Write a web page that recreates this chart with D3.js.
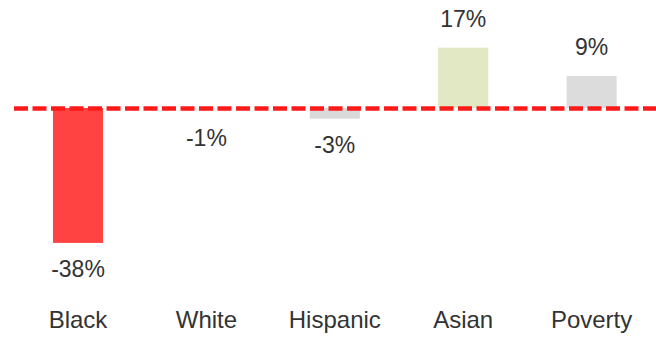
<!DOCTYPE html>
<html>
<head>
<meta charset="utf-8">
<script src="https://cdn.jsdelivr.net/npm/d3@7"></script>
<style>
  html, body { margin: 0; padding: 0; background: #fff; }
  svg { display: block; }
  text { font-family: "Liberation Sans", Arial, sans-serif; fill: #333; }
</style>
</head>
<body>
<svg id="chart" width="656" height="339"></svg>
<script>
// Change by group (percent)
const categories = ["Black", "White", "Hispanic", "Asian", "Poverty"];
const values = [-38, -1, -3, 17, 9];
const valueLabels = ["-38%", "-1%", "-3%", "17%", "9%"];
const barColors = ["#ff4242", "#f2f2f2", "#d9d9d9", "#e3e8c4", "#dcdcdc"];

const width = 656, height = 339;
const svg = d3.select("#chart");

const x = d3.scaleBand()
  .domain(categories)
  .range([13.8, 655.8])
  .paddingInner(0.61)
  .paddingOuter(0.305);

const y = d3.scaleLinear()
  .domain([-40, 20])
  .range([250, 37]);

const data = categories.map((c, i) => ({
  cat: c, value: values[i], label: valueLabels[i], color: barColors[i]
}));

// bars
svg.append("g")
  .selectAll("rect")
  .data(data)
  .join("rect")
  .attr("x", d => x(d.cat))
  .attr("width", x.bandwidth())
  .attr("y", d => y(Math.max(0, d.value)))
  .attr("height", d => Math.abs(y(d.value) - y(0)))
  .attr("fill", d => d.color);

// zero reference line
svg.append("line")
  .attr("x1", 14)
  .attr("x2", width)
  .attr("y1", y(0) + 0.5)
  .attr("y2", y(0) + 0.5)
  .attr("stroke", "#ff1a1a")
  .attr("stroke-width", 4.5)
  .attr("stroke-dasharray", "14,4.5");

// value labels
svg.append("g")
  .selectAll("text")
  .data(data)
  .join("text")
  .attr("x", d => x(d.cat) + x.bandwidth() / 2)
  .attr("y", d => d.value >= 0 ? y(d.value) - 21 : y(d.value) + 34)
  .attr("text-anchor", "middle")
  .attr("font-size", 23)
  .text(d => d.label);

// category axis labels
const xAxis = d3.axisBottom(x).tickSize(0).tickPadding(0);
const gx = svg.append("g")
  .attr("transform", "translate(0,310)")
  .call(xAxis);
gx.select(".domain").remove();
gx.selectAll("text")
  .attr("font-size", 24)
  .attr("font-family", "Liberation Sans, Arial, sans-serif")
  .attr("fill", "#333")
  .attr("dy", "0.77em");
</script>
</body>
</html>
